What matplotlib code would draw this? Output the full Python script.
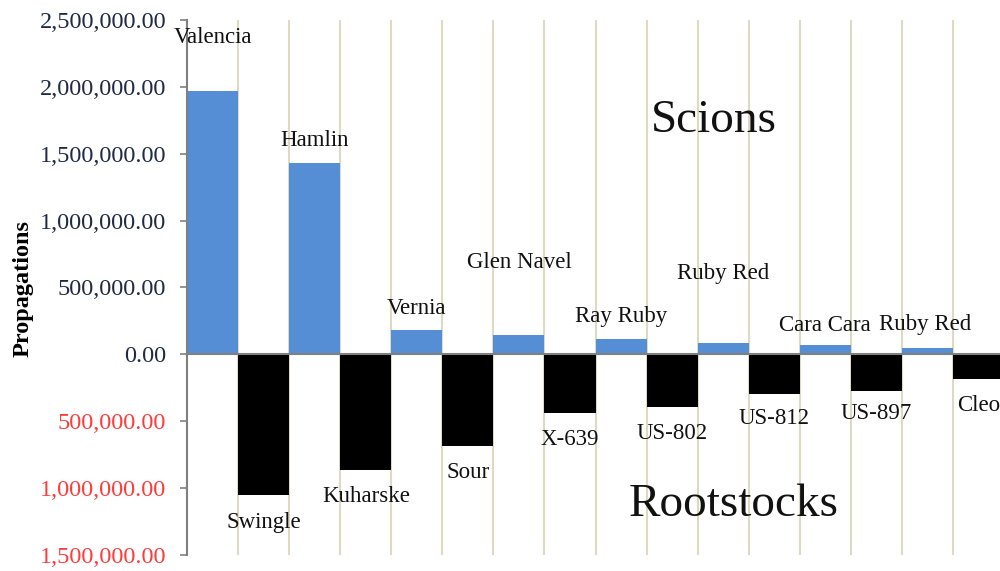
import matplotlib
matplotlib.use("Agg")
import matplotlib.pyplot as plt
from matplotlib.ticker import FuncFormatter, MultipleLocator

# valores (scions positivos, rootstocks negativos, alternados)
nomes = ['Valencia', 'Swingle', 'Hamlin', 'Kuharske', 'Vernia', 'Sour',
         'Glen Navel', 'X-639', 'Ray Ruby', 'US-802', 'Ruby Red', 'US-812',
         'Cara Cara', 'US-897', 'Ruby Red', 'Cleo']
valores = [1970000, -1055000, 1430000, -868000, 180000, -684000,
           147000, -439000, 115000, -392000, 82000, -294000,
           67000, -272000, 50000, -185000]

# deslocamento dos rotulos (pixels) em relacao ao topo/fundo da barra
desloc_x = [0, 0, 0, 0, 0, 0, 0, 0, 0, 0, 0, 0, 0, 0, -2, 0]
desloc_y = [53, -27, 23, -26, 22, -27, 72, -26, 22, -27, 70, -25, 20, -23, 23, -26]

plt.rcParams['font.family'] = ['Liberation Serif', 'DejaVu Serif']

fig = plt.figure(figsize=(10, 5.71), dpi=100)
ax = fig.add_axes([0.187, 0.028, 0.813, 0.937])

pos = list(range(len(nomes)))
cores = ['#558ED5' if v > 0 else '#000000' for v in valores]
ax.bar(pos, valores, width=1.0, color=cores, zorder=2)

# linhas verticais entre as barras
for k in pos:
    ax.axvline(k + 0.5, color='#DDD9C3', linewidth=1.5, zorder=1)
ax.axhline(0, color='#808080', linewidth=1.5, zorder=3)

for i, nome in enumerate(nomes):
    ax.annotate(nome, xy=(pos[i], valores[i]), xytext=(desloc_x[i], desloc_y[i]),
                textcoords='offset pixels', ha='center', va='center',
                fontsize=16.5, color='#111111', clip_on=False,
                annotation_clip=False)

ax.text(0.648, 0.812, 'Scions', transform=ax.transAxes, fontsize=34,
        ha='center', va='center', color='#111111')
ax.text(0.672, 0.094, 'Rootstocks', transform=ax.transAxes, fontsize=34,
        ha='center', va='center', color='#111111')

ax.set_xlim(-0.5, 15.42)
ax.set_ylim(-1500000, 2500000)
ax.yaxis.set_major_locator(MultipleLocator(500000))
ax.yaxis.set_major_formatter(FuncFormatter(lambda v, p: f'{abs(v):,.2f}'))
ax.tick_params(axis='y', labelsize=17.5, length=5, width=1.2, color='#808080', pad=10)
for lbl, t in zip(ax.get_yticklabels(), ax.get_yticks()):
    lbl.set_color('#FF3B3B' if t < 0 else '#1F2A44')
ax.set_xticks([])
ax.set_ylabel('Propagations', fontsize=17.5, fontweight='bold')
ax.yaxis.set_label_coords(-0.189, 0.499)

for lado in ['top', 'right', 'bottom']:
    ax.spines[lado].set_visible(False)
ax.spines['left'].set_color('#808080')
ax.spines['left'].set_linewidth(1.5)

plt.savefig('out.png', dpi=100)
